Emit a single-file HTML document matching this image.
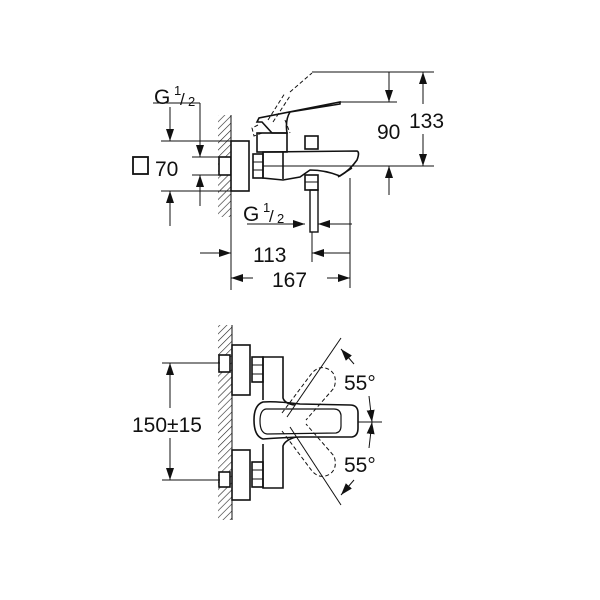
<!DOCTYPE html>
<html><head><style>
html,body{margin:0;padding:0;background:#fff}
svg{display:block}
text{font-family:"Liberation Sans",sans-serif;fill:#111}
</style></head><body>
<svg width="600" height="600" viewBox="0 0 600 600" xmlns="http://www.w3.org/2000/svg">
<defs>
<pattern id="h" width="5" height="5" patternUnits="userSpaceOnUse" patternTransform="rotate(45)">
<line x1="0" y1="0" x2="0" y2="5" stroke="#222" stroke-width="1.2"/>
</pattern>
<marker id="a" viewBox="0 0 12 10" refX="12" refY="5" markerWidth="12" markerHeight="10" markerUnits="userSpaceOnUse" orient="auto">
<path d="M0,1 L12,5 L0,9z" fill="#111"/>
</marker>
</defs>
<g stroke="#111" stroke-width="1" fill="none">
<!-- ===== TOP VIEW ===== -->
<rect x="218" y="115" width="13" height="102" fill="url(#h)" stroke="none"/>
<line x1="231" y1="115" x2="231" y2="290"/>
<rect x="219" y="157" width="12" height="18" fill="#fff" stroke-width="1.6"/>
<rect x="231" y="141" width="18" height="50" fill="#fff" stroke-width="1.6"/>
<rect x="253" y="154" width="10" height="24" stroke-width="1.6"/>
<line x1="253" y1="162" x2="263" y2="162"/><line x1="253" y1="170" x2="263" y2="170"/>
<rect x="257" y="133" width="30" height="19" stroke-width="1.6"/>
<path d="M263,152 L357,151 Q360,152 357,160 Q350,170 340,176 Q325,170 310,170 L300,177 L283,180 L263,178 Z" stroke-width="1.6"/>
<line x1="283" y1="152" x2="283" y2="179" stroke-width="1.6"/>
<path d="M338,177 L352,168" stroke-width="1.6"/>
<rect x="305" y="136" width="13" height="13" stroke-width="1.6"/>
<rect x="305" y="175" width="13" height="15" stroke-width="1.6"/>
<line x1="305" y1="182" x2="318" y2="182"/>
<rect x="310" y="190" width="8" height="42" stroke-width="1.4"/>
<path d="M257,122 L259,118 L340,102 L340,104 L290,112 Q285,120 287,133 L272,133 L262,122 Z" stroke-width="1.6"/>
<path d="M258,125 L252,128 L254,136 L262,133 M268,120 L285,93 M273,122 L290,96 M285,120 L290,133 M290,92 L312,73" stroke-dasharray="4,2.5"/>
<!-- dims top -->
<line x1="312" y1="72" x2="434" y2="72"/>
<line x1="340" y1="102" x2="397" y2="102"/>
<line x1="263" y1="166" x2="434" y2="166"/>
<line x1="389" y1="72" x2="389" y2="102" marker-end="url(#a)"/>
<line x1="389" y1="195" x2="389" y2="166" marker-end="url(#a)"/>
<line x1="423" y1="104" x2="423" y2="72" marker-end="url(#a)"/>
<line x1="423" y1="134" x2="423" y2="166" marker-end="url(#a)"/>
<!-- left dims -->
<line x1="153" y1="103" x2="200" y2="103"/>
<line x1="161" y1="141" x2="231" y2="141"/>
<line x1="161" y1="191" x2="231" y2="191"/>
<line x1="192" y1="157" x2="219" y2="157"/>
<line x1="192" y1="175" x2="219" y2="175"/>
<line x1="170" y1="107" x2="170" y2="141" marker-end="url(#a)"/>
<line x1="170" y1="226" x2="170" y2="191" marker-end="url(#a)"/>
<line x1="200" y1="103" x2="200" y2="157" marker-end="url(#a)"/>
<line x1="200" y1="206" x2="200" y2="175" marker-end="url(#a)"/>
<rect x="133" y="157" width="15" height="17" stroke-width="1.8"/>
<!-- bottom dims -->
<line x1="350" y1="178" x2="350" y2="288"/>
<line x1="312" y1="232" x2="312" y2="262"/>
<line x1="247" y1="224" x2="305" y2="224" marker-end="url(#a)"/>
<line x1="352" y1="224" x2="318" y2="224" marker-end="url(#a)"/>
<line x1="200" y1="253" x2="231" y2="253" marker-end="url(#a)"/>
<line x1="350" y1="253" x2="312" y2="253" marker-end="url(#a)"/>
<line x1="253" y1="278" x2="231" y2="278" marker-end="url(#a)"/>
<line x1="327" y1="278" x2="350" y2="278" marker-end="url(#a)"/>
<!-- ===== BOTTOM VIEW ===== -->
<rect x="218" y="325" width="14" height="195" fill="url(#h)" stroke="none"/>
<line x1="232" y1="325" x2="232" y2="520"/>
<rect x="232" y="345" width="18" height="50" fill="#fff" stroke-width="1.6"/>
<rect x="232" y="450" width="18" height="50" fill="#fff" stroke-width="1.6"/>
<rect x="219" y="355" width="11" height="17" fill="#fff" stroke-width="1.6"/>
<rect x="219" y="472" width="11" height="15" fill="#fff" stroke-width="1.6"/>
<rect x="252" y="357" width="11" height="25" stroke-width="1.6"/>
<line x1="252" y1="365" x2="263" y2="365"/><line x1="252" y1="374" x2="263" y2="374"/>
<rect x="252" y="462" width="11" height="25" stroke-width="1.6"/>
<line x1="252" y1="470" x2="263" y2="470"/><line x1="252" y1="479" x2="263" y2="479"/>
<path d="M263,400 L263,357 L283,357 L283,398 Q285,404 295,405 M263,444 L263,488 L283,488 L283,446 Q285,440 296,437" stroke-width="1.6"/>
<path d="M263,402 Q254,405 254,420 Q254,436 263,439 Q275,438 300,437 L352,437 Q358,436 358,428 L358,413 Q358,405 350,405 L300,404 Q275,401 263,402 Z" stroke-width="1.6"/>
<path d="M266,409 Q260,410 260,421 Q260,433 267,434 L336,433 Q341,432 341,426 L341,415 Q340,409 334,409 Z" stroke-width="1.2"/>
<line x1="287" y1="417" x2="341" y2="338"/>
<line x1="290" y1="427" x2="341" y2="505"/>
<line x1="358" y1="422" x2="382" y2="422"/>
<path d="M282,413 L312,373 Q320,364 330,370 Q338,376 334,388 L306,420" stroke-dasharray="4,2.5"/>
<path d="M282,431 L312,471 Q320,480 330,474 Q338,468 334,456 L306,424" stroke-dasharray="4,2.5"/>
<line x1="354" y1="364" x2="341" y2="349" marker-end="url(#a)"/>
<line x1="369" y1="396" x2="372" y2="422" marker-end="url(#a)"/>
<line x1="369" y1="448" x2="372" y2="422" marker-end="url(#a)"/>
<line x1="354" y1="480" x2="341" y2="495" marker-end="url(#a)"/>
<line x1="162" y1="363" x2="220" y2="363"/>
<line x1="162" y1="480" x2="220" y2="480"/>
<line x1="170" y1="408" x2="170" y2="363" marker-end="url(#a)"/>
<line x1="170" y1="438" x2="170" y2="480" marker-end="url(#a)"/>
</g>
<g font-size="21">
<text x="154" y="104">G</text><text x="174" y="95" font-size="13">1</text><text x="180" y="105" font-size="17">/</text><text x="188" y="106" font-size="13">2</text>
<text x="155" y="176">70</text>
<text x="243" y="221">G</text><text x="263" y="212" font-size="13">1</text><text x="269" y="222" font-size="17">/</text><text x="277" y="223" font-size="13">2</text>
<text x="253" y="262">113</text>
<text x="272" y="287">167</text>
<text x="377" y="139">90</text>
<text x="409" y="128">133</text>
<text x="132" y="432">150±15</text>
<text x="344" y="390">55°</text>
<text x="344" y="472">55°</text>
</g>
</svg>
</body></html>
